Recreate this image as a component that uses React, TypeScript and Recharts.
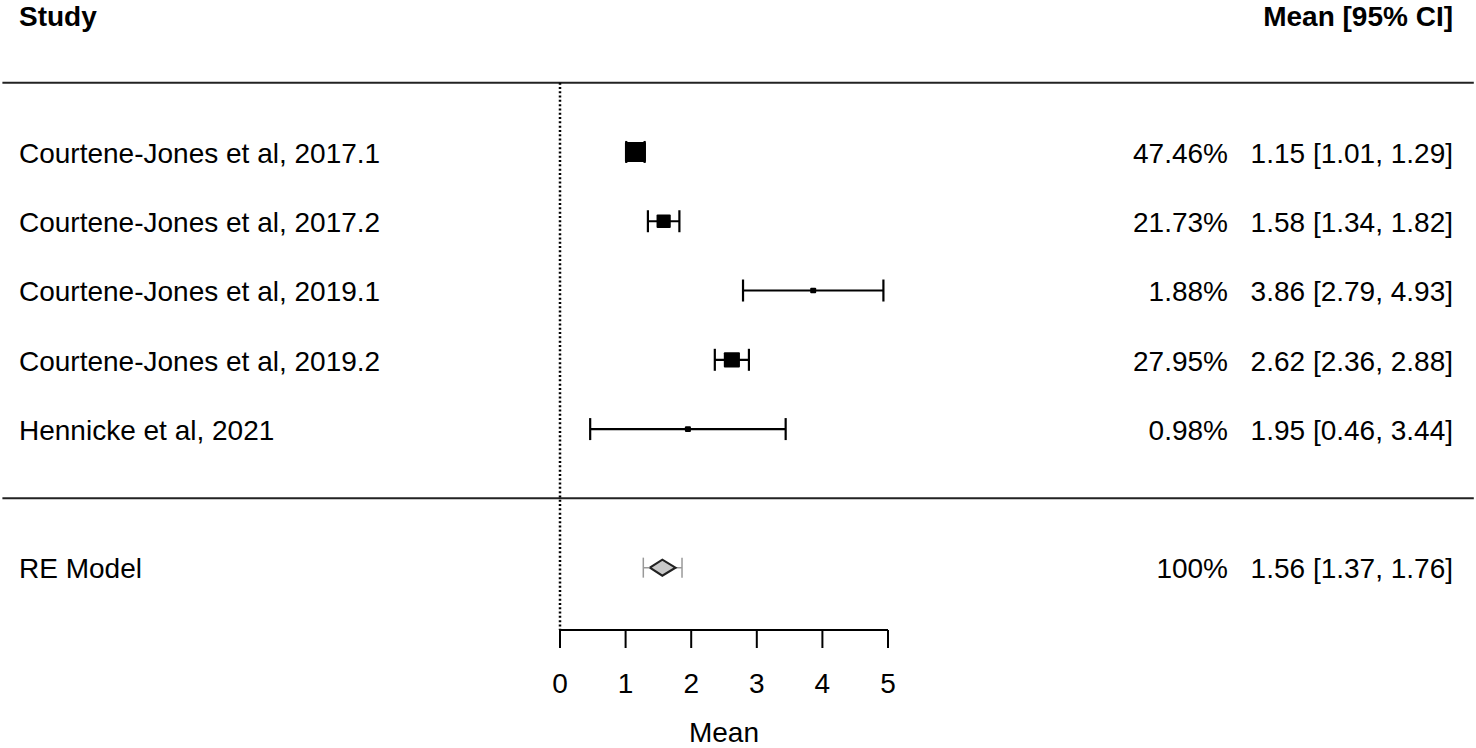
import React from 'react';
import { ScatterChart, Scatter, XAxis, YAxis, ErrorBar, ReferenceLine } from 'recharts';

const FONT = '"Liberation Sans", Arial, sans-serif';

// study rows
const studies = [
    'Courtene-Jones et al, 2017.1',
    'Courtene-Jones et al, 2017.2',
    'Courtene-Jones et al, 2019.1',
    'Courtene-Jones et al, 2019.2',
    'Hennicke et al, 2021',
];
const means = [1.15, 1.58, 3.86, 2.62, 1.95];
const lowers = [1.01, 1.34, 2.79, 2.36, 0.46];
const uppers = [1.29, 1.82, 4.93, 2.88, 3.44];
const weights = [47.46, 21.73, 1.88, 27.95, 0.98];

// random-effects summary
const reLabel = 'RE Model';
const reMean = 1.56;
const reLower = 1.37;
const reUpper = 1.76;
const rePiLower = 1.27;
const rePiUpper = 1.86;

const xTicks = [0, 1, 2, 3, 4, 5];
const rowTicks = [-1, 1, 2, 3, 4, 5, 7];

const studyPoints = studies.map((s, i) => ({
    x: means[i],
    y: i + 1,
    w: weights[i],
    err: [means[i] - lowers[i], uppers[i] - means[i]],
}));

const rePi = [{ x: reMean, y: 7, err: [reMean - rePiLower, rePiUpper - reMean] }];
const reDiamond = [
    { x: reLower, y: 7 },
    { x: reMean, y: 6.885 },
    { x: reUpper, y: 7 },
    { x: reMean, y: 7.115 },
    { x: reLower, y: 7 },
];

const fmtCi = (m: number, l: number, u: number) => `${m.toFixed(2)} [${l.toFixed(2)}, ${u.toFixed(2)}]`;

const rowText: Record<string, { left: string; mid: string; right: string; bold?: boolean }> = {
    '-1': { left: 'Study', mid: '', right: 'Mean [95% CI]', bold: true },
    '7': { left: reLabel, mid: '100%', right: fmtCi(reMean, reLower, reUpper) },
};
studies.forEach((s, i) => {
    rowText[String(i + 1)] = { left: s, mid: `${weights[i].toFixed(2)}%`, right: fmtCi(means[i], lowers[i], uppers[i]) };
});

const renderRowTick = (props: any) => {
    const { y, payload } = props;
    const r = rowText[String(payload.value)];
    if (!r) return <g />;
    const common = { fontFamily: FONT, fontSize: 28, fill: '#000', fontWeight: r.bold ? 'bold' : 'normal' } as const;
    const ty = r.bold ? y + 3 : y + 1;
    return (
        <g>
            <text x={19} y={ty} dy="0.35em" textAnchor="start" {...common}>{r.left}</text>
            {r.mid ? <text x={1228} y={ty} dy="0.35em" textAnchor="end" {...common}>{r.mid}</text> : null}
            <text x={1453} y={ty} dy="0.35em" textAnchor="end" {...common}>{r.right}</text>
        </g>
    );
};

const WeightSquare = (props: any) => {
    const { cx, cy, payload } = props;
    const side = Math.max(6, 21 * Math.sqrt(payload.w / 47.46));
    const h = Math.max(5, side * 0.95);
    return <rect x={cx - side / 2} y={cy - h / 2} width={side} height={h} fill="#000" rx={1} />;
};

const Nothing = () => <g />;

export default function App() {
    return (
        <div style={{ position: 'absolute', left: 0, top: 0, background: '#fff' }}>
            <ScatterChart width={1476} height={748} margin={{ top: 3, right: 588, bottom: 0, left: 559 }}>
                <XAxis
                    type="number"
                    dataKey="x"
                    domain={[0, 5]}
                    ticks={xTicks}
                    interval={0}
                    height={118}
                    tickSize={18}
                    tickMargin={25}
                    axisLine={{ stroke: '#000', strokeWidth: 2 }}
                    tickLine={{ stroke: '#000', strokeWidth: 2 }}
                    tick={{ fontFamily: FONT, fontSize: 28, fill: '#000' }}
                    label={{ value: 'Mean', position: 'insideBottom', offset: 6, fontFamily: FONT, fontSize: 28, fill: '#000' }}
                />
                <YAxis
                    type="number"
                    dataKey="y"
                    domain={[-1.15, 7.9]}
                    reversed
                    ticks={rowTicks}
                    interval={0}
                    width={1}
                    axisLine={false}
                    tickLine={false}
                    tick={renderRowTick}
                />
                <ReferenceLine segment={[{ x: -8.5, y: 0 }, { x: 13.93, y: 0 }]} stroke="#222" strokeWidth={2} ifOverflow="visible" />
                <ReferenceLine segment={[{ x: -8.5, y: 6 }, { x: 13.93, y: 6 }]} stroke="#222" strokeWidth={2} ifOverflow="visible" />
                <ReferenceLine segment={[{ x: 0, y: 0 }, { x: 0, y: 7.9 }]} stroke="#000" strokeWidth={2.5} strokeDasharray="2 2.3" ifOverflow="visible" />
                <Scatter data={studyPoints} shape={<WeightSquare />} isAnimationActive={false}>
                    <ErrorBar dataKey="err" direction="x" width={11} stroke="#000" strokeWidth={2.2} />
                </Scatter>
                <Scatter data={rePi} shape={<Nothing />} isAnimationActive={false}>
                    <ErrorBar dataKey="err" direction="x" width={10} stroke="#999" strokeWidth={1.5} />
                </Scatter>
                <Scatter
                    data={reDiamond}
                    shape={<Nothing />}
                    line={{ stroke: '#222', strokeWidth: 2.2, fill: '#c8c8c8' }}
                    lineType="joint"
                    isAnimationActive={false}
                />
            </ScatterChart>
        </div>
    );
}
